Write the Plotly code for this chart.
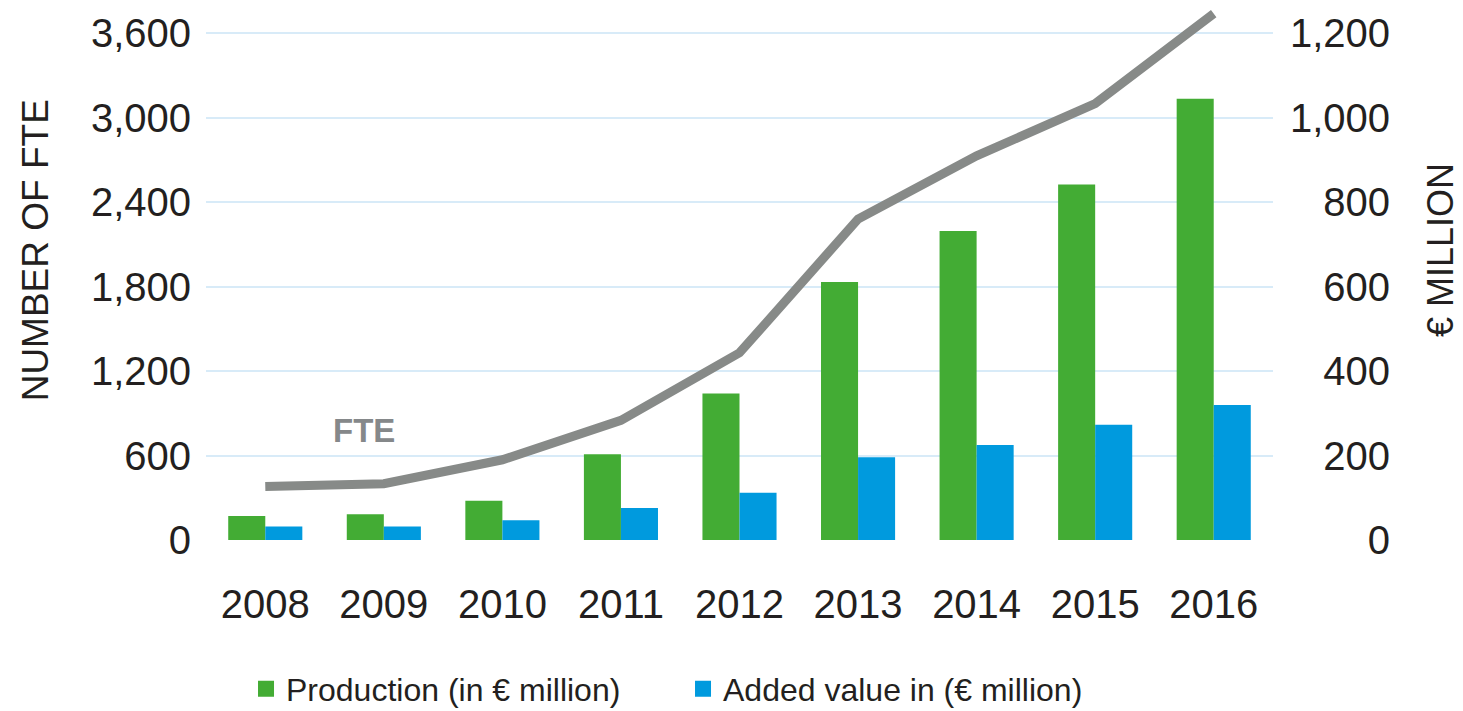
import plotly.graph_objects as go

# data
years = ["2008", "2009", "2010", "2011", "2012", "2013", "2014", "2015", "2016"]
fte = [380, 400, 570, 850, 1330, 2280, 2730, 3100, 3740]
production = [57, 61, 93, 203, 347, 611, 732, 842, 1045]
added_value = [32, 32, 47, 76, 112, 196, 225, 273, 320]

fte_ticks = [0, 600, 1200, 1800, 2400, 3000, 3600]
eur_ticks = [0, 200, 400, 600, 800, 1000, 1200]

GREEN = "#43ac34"
BLUE = "#009ade"
GREY = "#878a88"
TEXT = "#231f20"
GRID = "#d8ebf8"
FONT = "Liberation Sans"

# right-align the right axis labels with figure / punctuation spaces
eur_labels = []
for v in eur_ticks:
    s = f"{v:,}"
    digits = sum(c.isdigit() for c in s)
    pad = "\u2007" * (4 - digits)
    if "," not in s:
        pad += "\u2008"
    eur_labels.append(pad + s)

fig = go.Figure()

fig.add_trace(go.Bar(x=years, y=production, name="Production (in € million)",
                     marker=dict(color=GREEN, line=dict(width=0)), showlegend=False))
fig.add_trace(go.Bar(x=years, y=added_value, name="Added value in (€ million)",
                     marker=dict(color=BLUE, line=dict(width=0)), showlegend=False))

# FTE line on the left axis
fig.add_trace(go.Scatter(x=years, y=fte, mode="lines", name="FTE", yaxis="y2",
                         line=dict(color=GREY, width=9), showlegend=False))

# legend entries with larger square symbols
fig.add_trace(go.Scatter(x=[None], y=[None], mode="markers", name="Production (in € million)",
                         marker=dict(symbol="square", size=16, color=GREEN)))
fig.add_trace(go.Scatter(x=[None], y=[None], mode="markers", name="Added value in (€ million)",
                         marker=dict(symbol="square", size=16, color=BLUE)))

# the page body has an 8px margin, so the figure is 8px smaller than the window
fig.update_layout(
    width=1455, height=703,
    margin=dict(l=198, r=190, t=0, b=171, autoexpand=False),
    paper_bgcolor="white", plot_bgcolor="white",
    font=dict(family=FONT, color=TEXT, size=40),
    barmode="group", bargap=0.375, bargroupgap=0,
    xaxis=dict(type="category", showgrid=False, showline=False, zeroline=False,
               ticks="", ticklabelstandoff=37, tickfont=dict(size=40), automargin=False),
    yaxis=dict(side="right", range=[0, 1260], tickvals=eur_ticks, ticktext=eur_labels,
               showgrid=True, gridcolor=GRID, gridwidth=2, zeroline=False,
               showline=False, ticks="", ticklabelstandoff=16, tickfont=dict(size=40),
               automargin=False),
    yaxis2=dict(side="left", overlaying="y", range=[0, 3780], tickvals=fte_ticks,
                tickformat=",", showgrid=False, zeroline=False, showline=False,
                ticks="", ticklabelstandoff=14, tickfont=dict(size=40), automargin=False),
    legend=dict(orientation="h", x=0.0375, y=-0.28, xanchor="left", yanchor="middle",
                font=dict(size=32, family=FONT, color=TEXT), entrywidth=392,
                bgcolor="rgba(0,0,0,0)"),
    annotations=[
        dict(text="NUMBER OF FTE", xref="paper", yref="paper", x=-0.160, y=0.545,
             xanchor="center", yanchor="middle", textangle=-90, showarrow=False,
             font=dict(size=37, color=TEXT)),
        dict(text="€ MILLION", xref="paper", yref="paper", x=1.1565, y=0.545,
             xanchor="center", yanchor="middle", textangle=-90, showarrow=False,
             font=dict(size=36, color=TEXT)),
        dict(text="<b>FTE</b>", xref="x", yref="y2", x=0.83, y=780,
             showarrow=False, font=dict(size=33, color="#85888a")),
    ],
)

fig.write_html("out.html")
